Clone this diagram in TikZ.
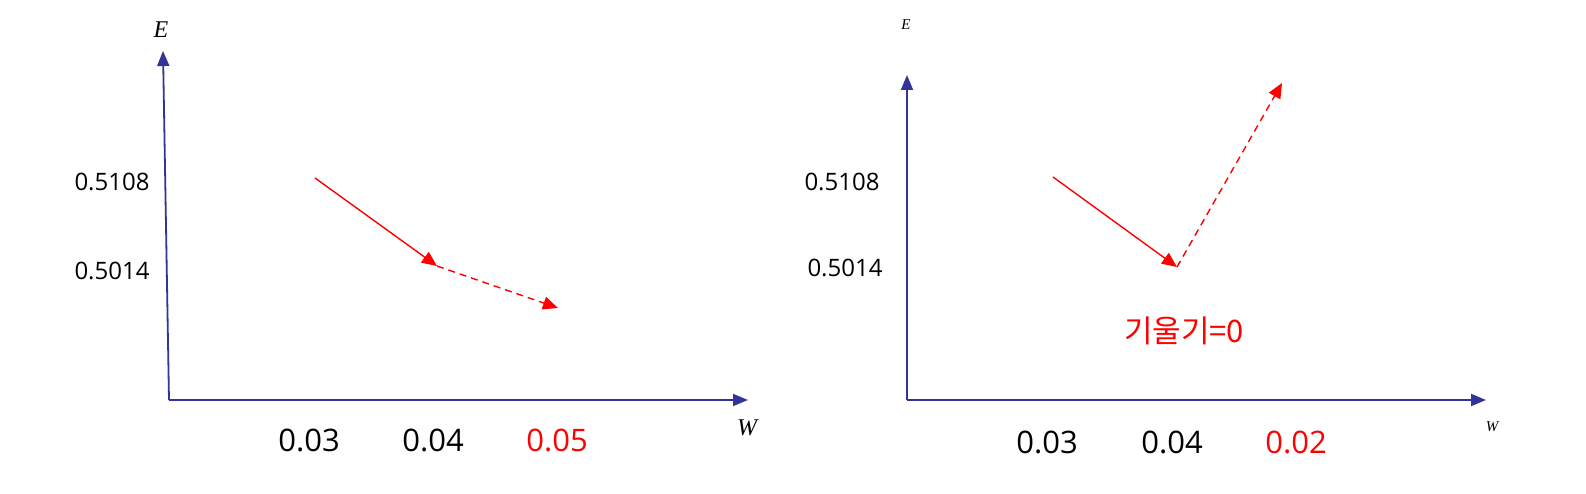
\documentclass[tikz,border=0pt]{standalone}
\usepackage{fontspec}
\setmainfont{Open Sans}
\newfontfamily\krfont{Noto Sans CJK KR}
\newfontfamily\serifit{Liberation Serif}
\usetikzlibrary{arrows.meta}
\definecolor{axisblue}{RGB}{51,51,153}
\begin{document}
\begin{tikzpicture}[x=1pt,y=-1pt,
  axis/.style={draw=axisblue,line width=1.8pt,-{Triangle[length=15pt,width=12pt]}},
  grad/.style={draw=red,line width=1.4pt,-{Triangle[length=15pt,width=13pt]}},
  gradd/.style={grad,dash pattern=on 7pt off 5pt},
  ytick/.style={inner sep=0pt,font=\fontsize{24}{28}\selectfont},
  xtick/.style={inner sep=0pt,font=\fontsize{31}{37}\selectfont},
  biglab/.style={inner sep=0pt,font=\serifit\itshape\fontsize{24}{28}\selectfont},
  smalllab/.style={inner sep=0pt,font=\serifit\itshape\fontsize{15}{18}\selectfont}
]
\useasboundingbox (0,0) rectangle (1586,494);
% ---------- left panel ----------
\coordinate (LO) at (169,400);
\coordinate (LY) at (163,51);
\coordinate (LX) at (748,400);
\draw[axis] (LO) -- (LY);
\draw[axis] (LO) -- (LX);
\node[biglab] (LE) at (161,30) {E};
\node[biglab] (LW) at (747,428) {W};
\node[ytick] (L1) at (112,182) {0.5108};
\node[ytick] (L2) at (112,271) {0.5014};
\node[xtick] (L3) at (309,440) {0.03};
\node[xtick] (L4) at (433,440) {0.04};
\node[xtick,text=red] (L5) at (557,440) {0.05};
\coordinate (LA) at (315,178);
\coordinate (LB) at (437,266);
\coordinate (LC) at (558,308);
\draw[grad] (LA) -- (LB);
\draw[gradd] (LB) -- (LC);
% ---------- right panel ----------
\coordinate (RO) at (907,400);
\coordinate (RY) at (907,75);
\coordinate (RX) at (1486,400);
\draw[axis] (RO) -- (RY);
\draw[axis] (RO) -- (RX);
\node[smalllab] (RE) at (906,25) {E};
\node[smalllab] (RW) at (1492,427) {W};
\node[ytick] (R1) at (842,182) {0.5108};
\node[ytick] (R2) at (845,268) {0.5014};
\node[xtick] (R3) at (1047,442) {0.03};
\node[xtick] (R4) at (1172,442) {0.04};
\node[xtick,text=red] (R5) at (1296,442) {0.02};
\node[inner sep=0pt,text=red,font=\krfont\fontsize{31}{35}\selectfont] (RK) at (1184,331) {기울기=0};
\coordinate (RA) at (1053,177);
\coordinate (RB) at (1177,267);
\coordinate (RC) at (1282,83);
\draw[grad] (RA) -- (RB);
\draw[gradd] (RB) -- (RC);
\end{tikzpicture}
\end{document}
